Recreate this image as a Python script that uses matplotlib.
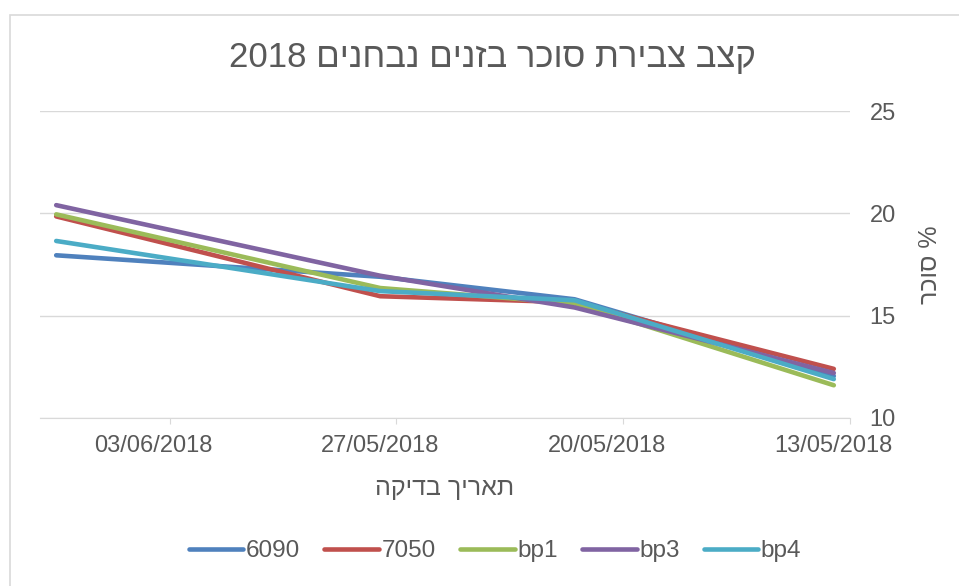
import pandas as pd
import matplotlib.pyplot as plt
import matplotlib.dates as mdates
from matplotlib.patches import Rectangle

# dates of sampling and sugar % per variety
dates = ['13/05/2018', '21/05/2018', '27/05/2018', '06/06/2018']
v6090 = [12.05, 15.8, 16.9, 17.95]
v7050 = [12.4, 15.65, 15.95, 19.85]
bp1 = [11.6, 15.6, 16.35, 19.95]
bp3 = [12.2, 15.4, 16.95, 20.4]
bp4 = [11.9, 15.75, 16.2, 18.65]
series_names = ['6090', '7050', 'bp1', 'bp3', 'bp4']
tick_dates = ['13/05/2018', '20/05/2018', '27/05/2018', '03/06/2018']

title = 'קצב צבירת סוכר בזנים נבחנים 2018'
xlabel = 'תאריך בדיקה'
ylabel = '% סוכר'

colors = ['#4F81BD', '#C0504D', '#9BBB59', '#8064A2', '#4BACC6']
txt = '#595959'
fonts = ['Liberation Sans', 'DejaVu Sans']


def visual(s):
    # matplotlib has no bidi support: put RTL text in display order
    out = []
    for w in reversed(s.split(' ')):
        if any('\u0590' <= c <= '\u05ff' for c in w):
            w = w[::-1]
        out.append(w)
    return ' '.join(out)


plt.rcParams['font.family'] = fonts

# Excel date axis: each day is a slot, points/labels sit in the middle of it
half_day = pd.Timedelta(hours=12)
x = pd.to_datetime(dates, format='%d/%m/%Y') + half_day
ticks = pd.to_datetime(tick_dates, format='%d/%m/%Y')

fig = plt.figure(figsize=(9.59, 5.86), dpi=100)
fig.patches.append(Rectangle((10 / 959, -0.05), 1.2, 1 - 15 / 586 + 0.05,
                             transform=fig.transFigure, fill=False,
                             edgecolor='#D9D9D9', lw=1.2))
ax = fig.add_axes([40 / 959, 1 - 418 / 586, 810 / 959, 307 / 586])

for vals, name, c in zip([v6090, v7050, bp1, bp3, bp4], series_names, colors):
    ax.plot(x, vals, color=c, lw=3.3, label=name, solid_capstyle='round')

ax.set_xlim(pd.Timestamp('2018-06-07'), pd.Timestamp('2018-05-13'))
ax.set_ylim(10, 25)
ax.set_yticks([10, 15, 20, 25])
ax.set_xticks(ticks)
ax.set_xticklabels([])
ax.set_xticks(ticks + half_day, minor=True)
ax.xaxis.set_minor_formatter(mdates.DateFormatter('%d/%m/%Y'))

ax.yaxis.tick_right()
ax.yaxis.set_label_position('right')
ax.grid(True, axis='y', color='#D9D9D9', lw=1)
ax.set_axisbelow(True)
for s in ['top', 'left', 'right']:
    ax.spines[s].set_visible(False)
ax.spines['bottom'].set_color('#D9D9D9')
ax.tick_params(axis='y', length=0, pad=14, labelsize=17, labelcolor=txt)
ax.tick_params(axis='x', which='major', length=4, color='#D9D9D9')
ax.tick_params(axis='x', which='minor', length=4, color='none', pad=8,
               labelsize=17, labelcolor=txt)

ax.set_ylabel(visual(ylabel), rotation=90, fontsize=18, color=txt, labelpad=16)
ax.set_xlabel(visual(xlabel), fontsize=18, color=txt, labelpad=14)
fig.text(492 / 959, 1 - 58 / 586, visual(title), ha='center', va='center',
         fontsize=25, color=txt)

fig.legend(loc='center', bbox_to_anchor=(495 / 959, 1 - 551 / 586), ncol=5,
           frameon=False, fontsize=17.5, labelcolor=txt, handlelength=2.25,
           handletextpad=0.1, columnspacing=1.0)

fig.savefig('out.png', dpi=100)
